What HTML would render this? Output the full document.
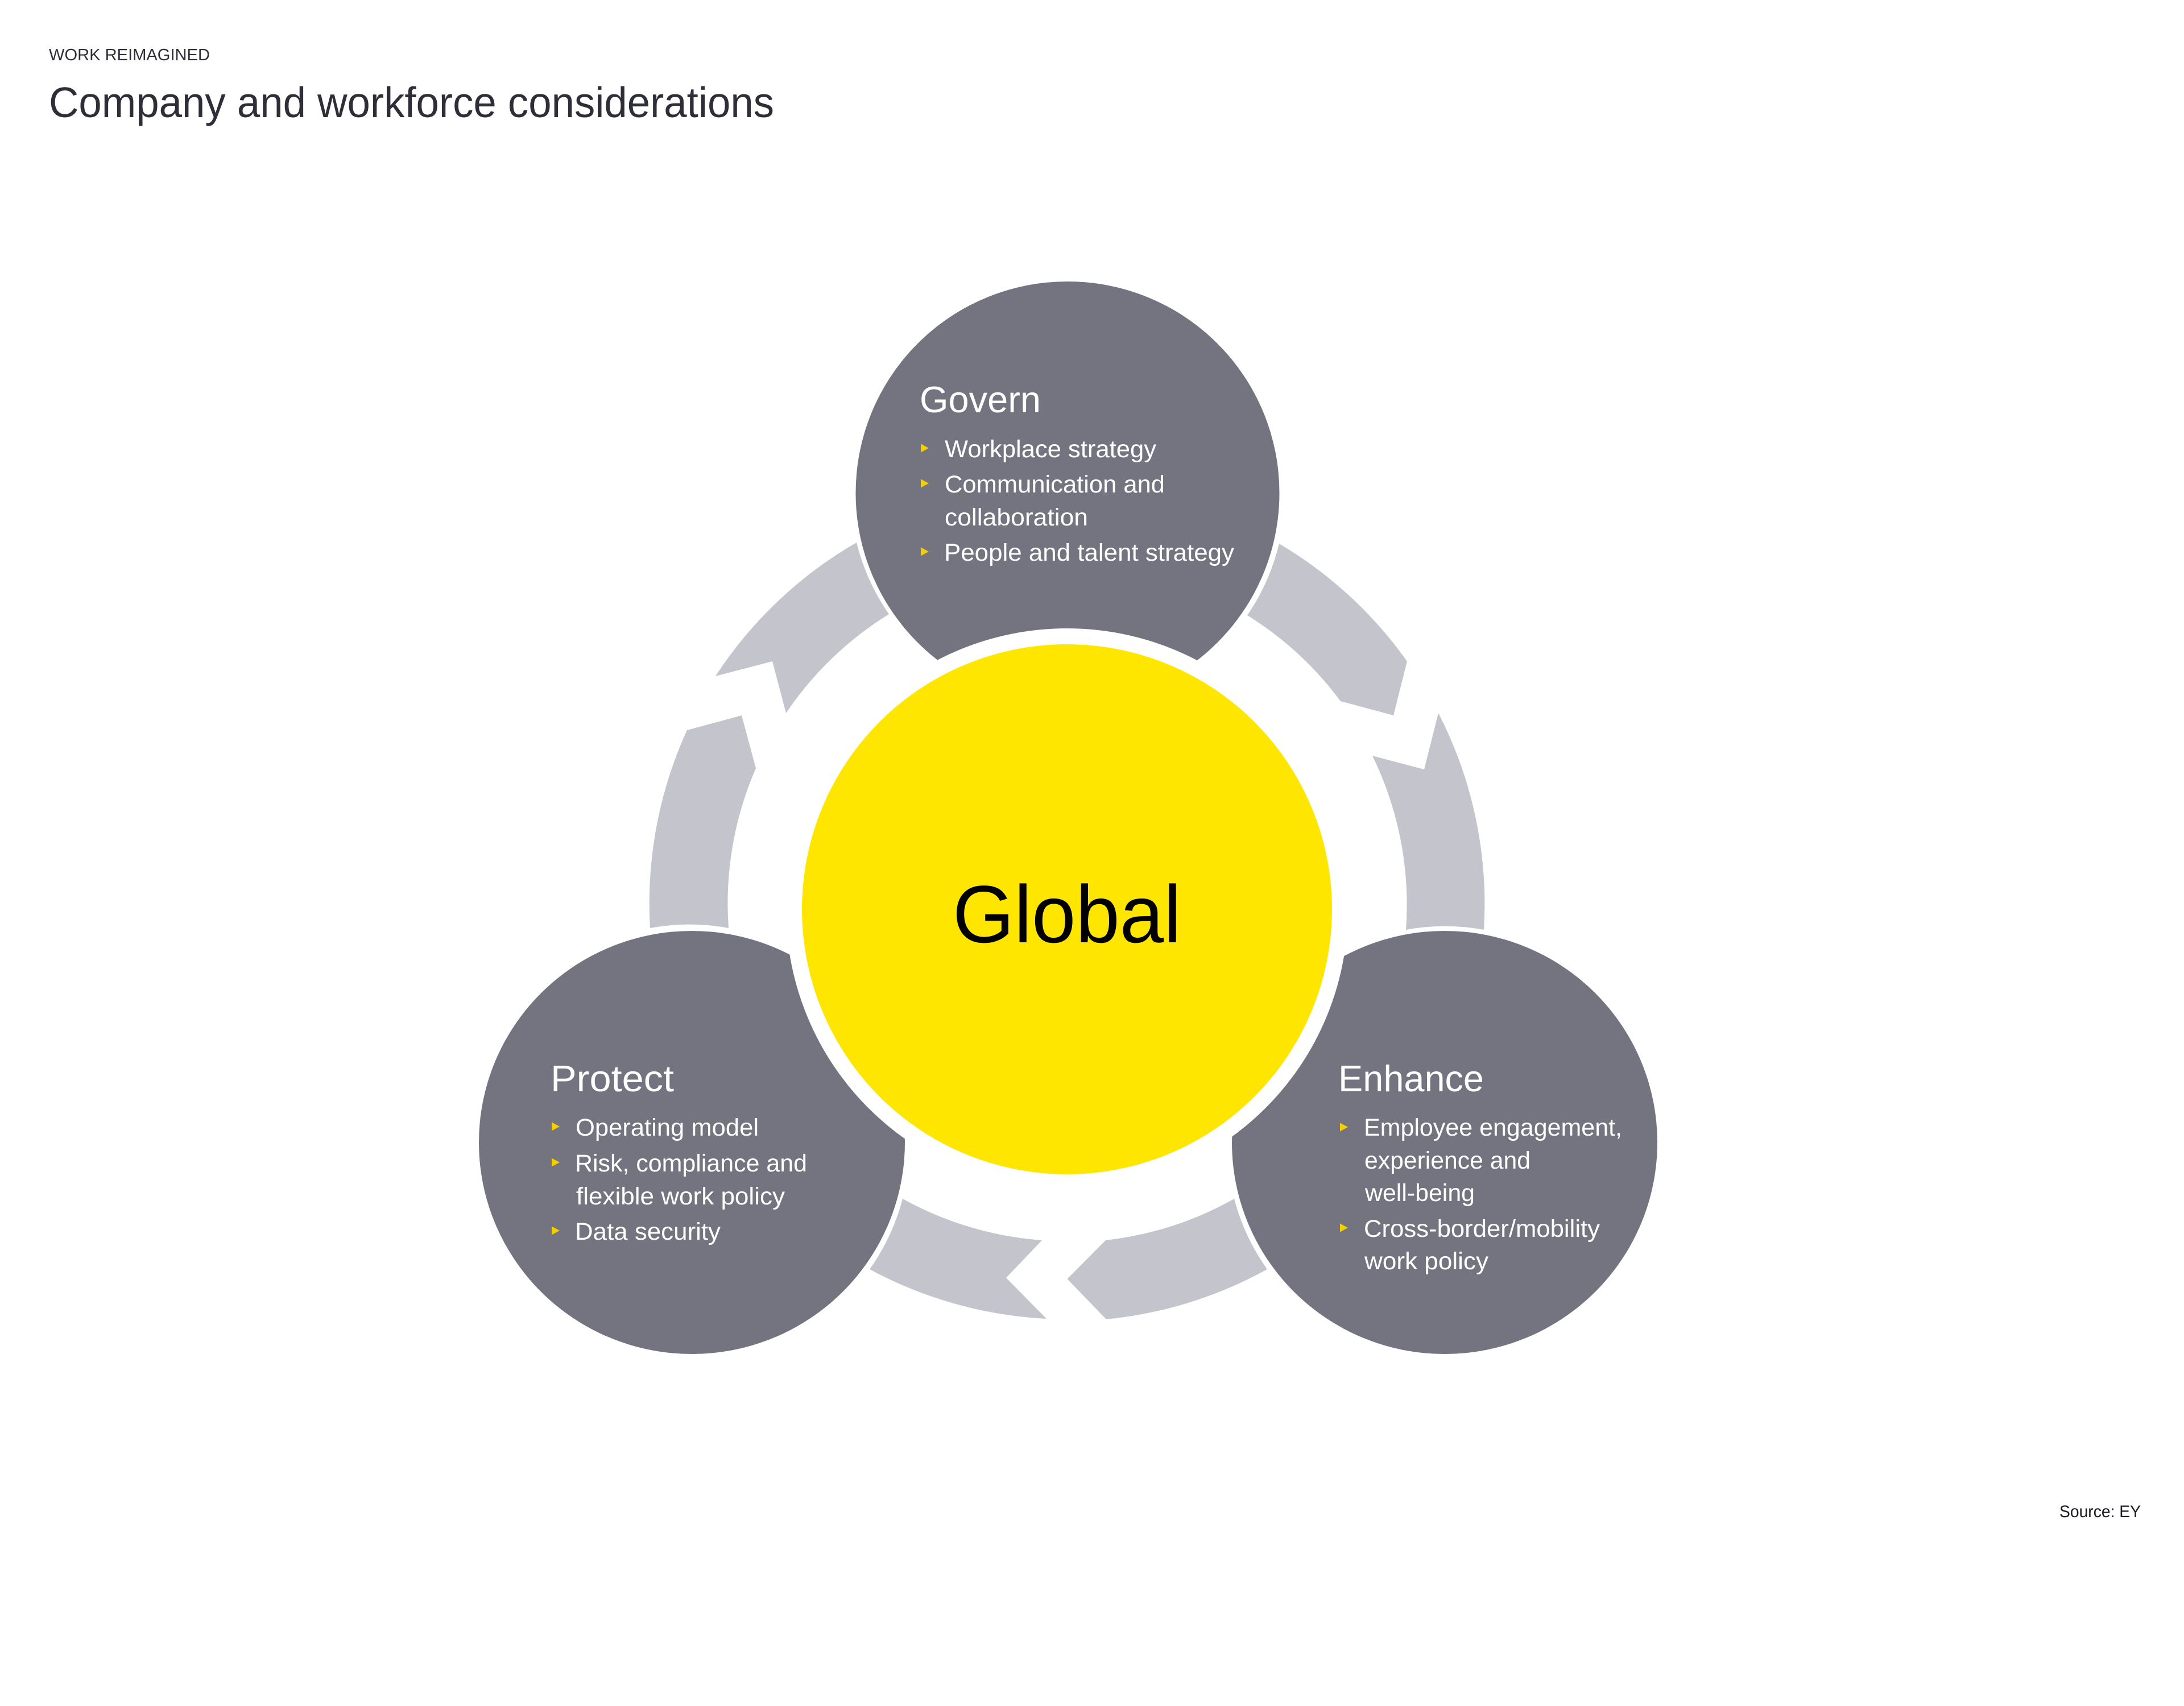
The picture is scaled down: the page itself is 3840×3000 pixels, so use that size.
<!DOCTYPE html>
<html lang="en">
<head>
<meta charset="utf-8">
<title>Company and workforce considerations</title>
<style>
html,body{margin:0;padding:0;background:#fff;width:3840px;height:3000px;overflow:hidden}
svg{display:block}
text{font-family:"Liberation Sans",sans-serif}
.h{font-size:65px;fill:#fff}
.b{font-size:43px;fill:#fff}
</style>
</head>
<body>
<svg xmlns="http://www.w3.org/2000/svg" width="3840" height="3000" viewBox="0 0 3840 3000">
<rect width="3840" height="3000" fill="#fff"/>

<text x="86" y="106" font-size="29" fill="#2e2e38" textLength="283" lengthAdjust="spacingAndGlyphs">WORK REIMAGINED</text>
<text x="86" y="206" font-size="75" fill="#2e2e38" textLength="1275" lengthAdjust="spacingAndGlyphs">Company and workforce considerations</text>

<g fill="#c4c4cd">
<path d="M1506 954A733 733 0 0 0 1258 1189L1358 1163L1382 1254A597 597 0 0 1 1563 1080A383 383 0 0 1 1506 954Z"/>
<path d="M1208 1284L1304 1258L1329 1351A597 597 0 0 0 1281 1632A383 383 0 0 0 1143 1632A733 733 0 0 1 1208 1284Z"/>
<path d="M2249 956A733 733 0 0 1 2474 1163L2450 1258L2357 1233A597 597 0 0 0 2193 1082A383 383 0 0 0 2249 956Z"/>
<path d="M2529 1254A733 733 0 0 1 2609 1635A383 383 0 0 0 2472 1635A597 597 0 0 0 2413 1329L2504 1353Z"/>
<path d="M1587 2108A597 597 0 0 0 1832 2181L1769 2247L1840 2319A733 733 0 0 1 1529 2232A383 383 0 0 0 1587 2108Z"/>
<path d="M2170 2108A383 383 0 0 0 2228 2232A733 733 0 0 1 1945 2320L1876.500 2249L1944 2181A597 597 0 0 0 2170 2108Z"/>
</g>

<g fill="#747480">
<ellipse cx="1877" cy="867" rx="372.500" ry="372"/>
<ellipse cx="1216.500" cy="2009" rx="374.500" ry="372"/>
<ellipse cx="2540" cy="2009" rx="374" ry="372"/>
</g>
<circle cx="1876" cy="1599" r="494" fill="#fff"/>
<circle cx="1876" cy="1599" r="466" fill="#ffe600"/>

<text x="1675" y="1657" font-size="143" fill="#000" textLength="402" lengthAdjust="spacingAndGlyphs">Global</text>

<text class="h" x="1617" y="725" textLength="213" lengthAdjust="spacingAndGlyphs">Govern</text>
<g fill="#f5d000">
<path d="M1619 780.500L1633 788L1619 795.500Z"/>
<path d="M1619 842.500L1633 850L1619 857.500Z"/>
<path d="M1619 962.500L1633 970L1619 977.500Z"/>
</g>
<text class="b" x="1661" y="804" textLength="372" lengthAdjust="spacingAndGlyphs">Workplace strategy</text>
<text class="b" x="1661" y="866" textLength="387" lengthAdjust="spacingAndGlyphs">Communication and</text>
<text class="b" x="1661" y="924" textLength="252" lengthAdjust="spacingAndGlyphs">collaboration</text>
<text class="b" x="1660" y="986" textLength="510" lengthAdjust="spacingAndGlyphs">People and talent strategy</text>

<text class="h" x="968" y="1919" textLength="217" lengthAdjust="spacingAndGlyphs">Protect</text>
<g fill="#f5d000">
<path d="M970 1973.500L984 1981L970 1988.500Z"/>
<path d="M970 2036.500L984 2044L970 2051.500Z"/>
<path d="M970 2156.500L984 2164L970 2171.500Z"/>
</g>
<text class="b" x="1012" y="1997" textLength="322" lengthAdjust="spacingAndGlyphs">Operating model</text>
<text class="b" x="1011" y="2060" textLength="408" lengthAdjust="spacingAndGlyphs">Risk, compliance and</text>
<text class="b" x="1013" y="2118" textLength="367" lengthAdjust="spacingAndGlyphs">flexible work policy</text>
<text class="b" x="1011" y="2180" textLength="256" lengthAdjust="spacingAndGlyphs">Data security</text>

<text class="h" x="2353" y="1919" textLength="256" lengthAdjust="spacingAndGlyphs">Enhance</text>
<g fill="#f5d000">
<path d="M2356 1974.500L2370 1982L2356 1989.500Z"/>
<path d="M2356 2151.500L2370 2159L2356 2166.500Z"/>
</g>
<text class="b" x="2398" y="1997" textLength="454" lengthAdjust="spacingAndGlyphs">Employee engagement,</text>
<text class="b" x="2399" y="2055" textLength="292" lengthAdjust="spacingAndGlyphs">experience and</text>
<text class="b" x="2400" y="2112" textLength="193" lengthAdjust="spacingAndGlyphs">well-being</text>
<text class="b" x="2398" y="2175" textLength="415" lengthAdjust="spacingAndGlyphs">Cross-border/mobility</text>
<text class="b" x="2399" y="2232" textLength="218" lengthAdjust="spacingAndGlyphs">work policy</text>

<text x="3621" y="2668" font-size="30" fill="#1a1a24" textLength="143" lengthAdjust="spacingAndGlyphs">Source: EY</text>
</svg>
</body>
</html>
